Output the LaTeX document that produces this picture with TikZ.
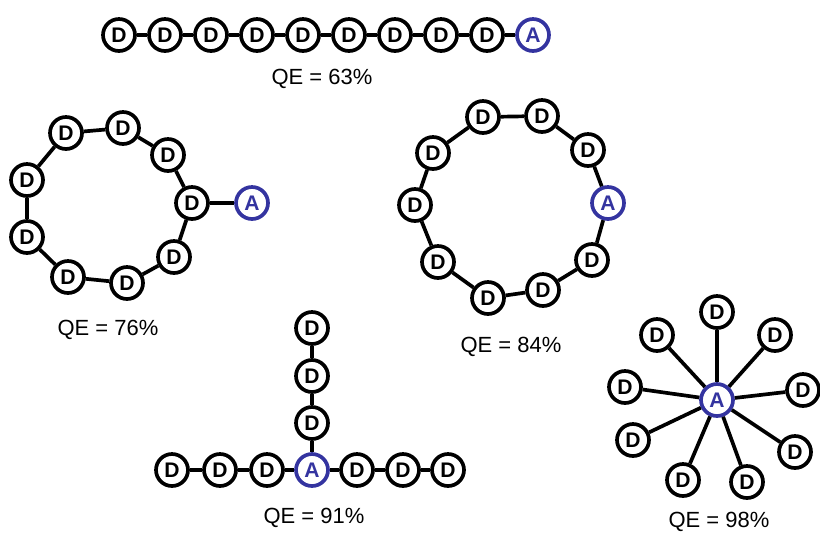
\documentclass[tikz,border=0pt]{standalone}
\usepackage{fontspec}
\setmainfont{Liberation Sans}
\setsansfont{Liberation Sans}
\usepackage{tikz}
\usetikzlibrary{positioning}
\definecolor{qblue}{RGB}{52,52,160}

\begin{document}
\begin{tikzpicture}[x=0.02cm,y=-0.02cm,font=\sffamily,
  dn/.style={circle,draw,line width=2.1pt,fill=white,minimum size=0.64cm,inner sep=0pt,font=\sffamily\bfseries\fontsize{12}{12}\selectfont},
  an/.style={dn,draw=qblue,text=qblue},
  ln/.style={line width=2.1pt},
  qe/.style={font=\sffamily\fontsize{12.5}{12.5}\selectfont}]

  \useasboundingbox (0,0) rectangle (820,538);

  % ---- linear chain: nine donors, acceptor at the end ----
  \foreach \x [count=\i] in {119,165,211,257,303,349,395,441,487}
    \node[dn] (c\i) at (\x,35) {D};
  \node[an] (c10) at (533,35) {A};
  \foreach \i [count=\j from 2] in {1,...,9}
    \draw[ln] (c\i) -- (c\j);
  \node[qe] (qe1) at (322,79) {QE = 63\%};

  % ---- ring of donors, acceptor hanging outside ----
  \foreach \x/\y [count=\i] in {192/203,174/257,127/283,68/277,27/237,27/180,66/133,123/128,168/155}
    \node[dn] (r\i) at (\x,\y) {D};
  \node[an] (ra) at (252,203) {A};
  \foreach \i/\j in {1/2,2/3,3/4,4/5,5/6,6/7,7/8,8/9,9/1}
    \draw[ln] (r\i) -- (r\j);
  \draw[ln] (r1) -- (ra);
  \node[qe] (qe2) at (108,330) {QE = 76\%};

  % ---- ring with the acceptor inside it ----
  \node[an] (s1) at (608,203) {A};
  \foreach \x/\y [count=\i from 2] in {592/260,543/290,488/298,438/262,415/205,433/153,483/117,542/116,588/150}
    \node[dn] (s\i) at (\x,\y) {D};
  \foreach \i/\j in {1/2,2/3,3/4,4/5,5/6,6/7,7/8,8/9,9/10,10/1}
    \draw[ln] (s\i) -- (s\j);
  \node[qe] (qe3) at (511,347) {QE = 84\%};

  % ---- T shape, acceptor at the junction ----
  \node[an] (ta) at (312,470) {A};
  \foreach \x [count=\i] in {172,220,267,357,403,448}
    \node[dn] (t\i) at (\x,470) {D};
  \foreach \y [count=\i] in {423,376,328}
    \node[dn] (u\i) at (312,\y) {D};
  \draw[ln] (t1) -- (t2);
  \draw[ln] (t2) -- (t3);
  \draw[ln] (t3) -- (ta);
  \draw[ln] (ta) -- (t4);
  \draw[ln] (t4) -- (t5);
  \draw[ln] (t5) -- (t6);
  \draw[ln] (ta) -- (u1);
  \draw[ln] (u1) -- (u2);
  \draw[ln] (u2) -- (u3);
  \node[qe] (qe4) at (314,518) {QE = 91\%};

  % ---- star: every donor bonded to the acceptor ----
  \node[an] (sa) at (717,400) {A};
  \foreach \x/\y [count=\i] in {717/312,775/335,803/390,795/452,747/482,683/480,633/440,625/387,657/335}{
    \node[dn] (p\i) at (\x,\y) {D};
    \draw[ln] (sa) -- (p\i);
  }
  \node[qe] (qe5) at (719,522) {QE = 98\%};
\end{tikzpicture}
\end{document}
